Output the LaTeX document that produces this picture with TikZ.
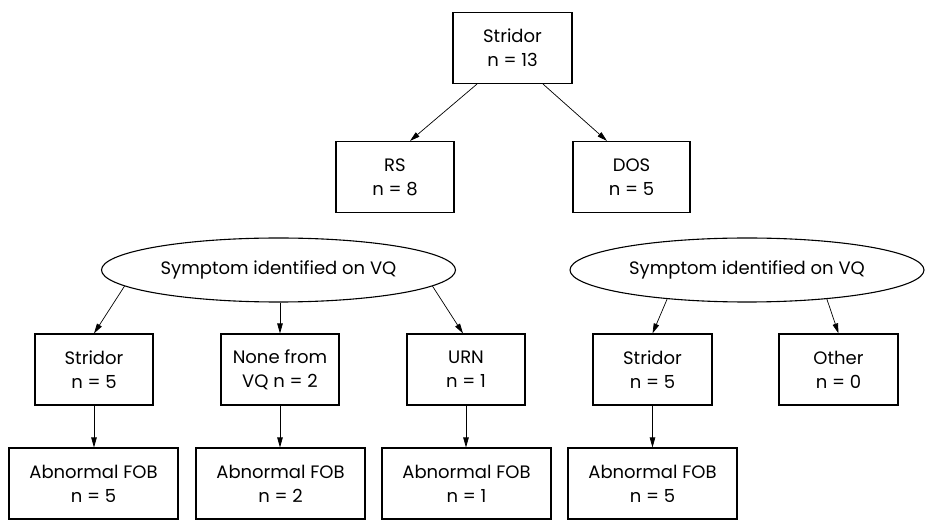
\documentclass[tikz,border=0pt]{standalone}
\usepackage{fontspec}
\setmainfont{Poppins}
\usetikzlibrary{shapes.geometric,arrows.meta}
\begin{document}
\begin{tikzpicture}[x=1pt,y=-1pt,
  box/.style={draw,line width=1.1pt,minimum width=118pt,minimum height=71pt,align=center,inner sep=0pt,font=\fontsize{18}{24}\selectfont},
  wbox/.style={box,minimum width=169pt},
  oval/.style={draw,ellipse,line width=1.1pt,minimum width=354pt,minimum height=64pt,inner sep=0pt,font=\fontsize{18}{24}\selectfont},
  arr/.style={line width=0.7pt,-{Triangle[length=10pt,width=5.5pt]}}]
\useasboundingbox (0,0) rectangle (927,529);
\node[box,minimum width=119pt] (top) at (512.5,48) {Stridor\\n = 13};
\node[box] (rs) at (395,177) {RS\\n = 8};
\node[box,minimum width=117pt] (dos) at (631.5,177) {DOS\\n = 5};
\node[oval] (e1) at (278.5,270) {Symptom identified on VQ};
\node[oval] (e2) at (747,270) {Symptom identified on VQ};
\node[box] (b1) at (94,369.5) {Stridor\\n = 5};
\node[box] (b2) at (280,369.5) {None from\\VQ n = 2};
\node[box] (b3) at (466,369.5) {URN\\n = 1};
\node[box,minimum width=119pt] (b4) at (652.5,369.5) {Stridor\\n = 5};
\node[box,minimum width=119pt] (b5) at (838.5,369.5) {Other\\n = 0};
\node[wbox] (c1) at (93.5,483.5) {Abnormal FOB\\n = 5};
\node[wbox] (c2) at (280.5,483.5) {Abnormal FOB\\n = 2};
\node[wbox] (c3) at (466.5,483.5) {Abnormal FOB\\n = 1};
\node[wbox] (c4) at (652.5,483.5) {Abnormal FOB\\n = 5};
\draw[arr] ([xshift=-35.5pt]top.south) -- ([xshift=15pt]rs.north);
\draw[arr] ([xshift=30.5pt]top.south) -- ([xshift=-24.5pt]dos.north);
\draw[arr] (e1.186) -- (b1.north);
\draw[arr] (b2.north |- e1.south) -- (b2.north);
\draw[arr] (e1.354) -- ([xshift=-3pt]b3.north);
\draw[arr] (e2.200) -- (b4.north);
\draw[arr] (e2.340) -- (b5.north);
\draw[arr] (b1.south) -- (b1.south |- c1.north);
\draw[arr] (b2.south) -- (b2.south |- c2.north);
\draw[arr] (b3.south) -- (b3.south |- c3.north);
\draw[arr] (b4.south) -- (c4.north);
\end{tikzpicture}
\end{document}
